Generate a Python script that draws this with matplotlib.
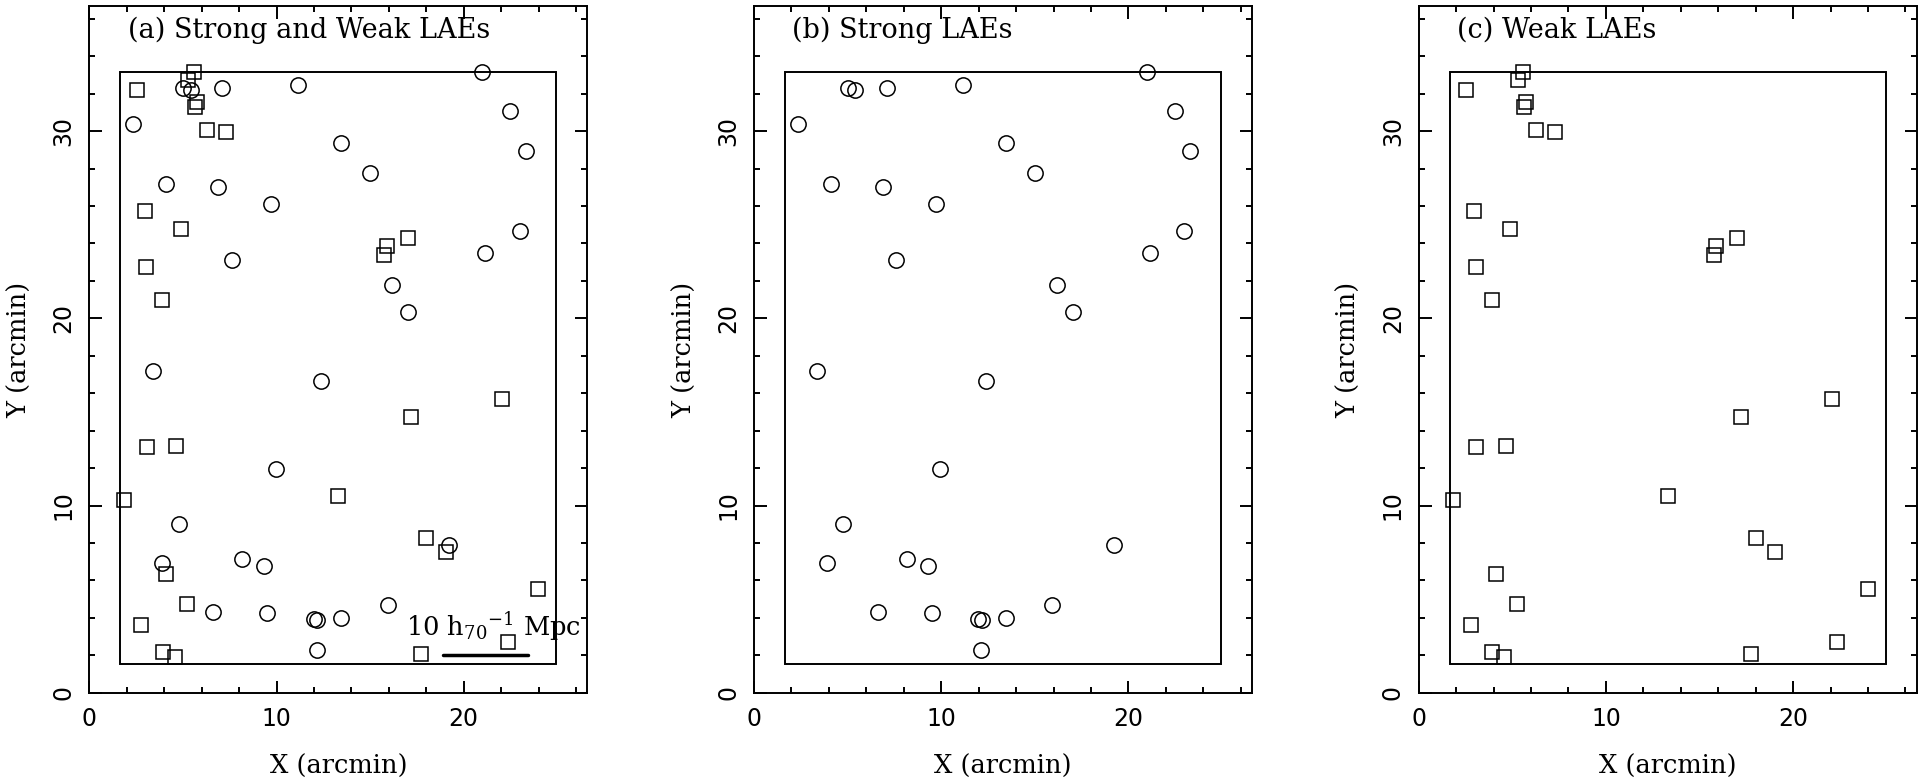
import matplotlib.pyplot as plt
from matplotlib.patches import Rectangle
from matplotlib.ticker import MultipleLocator

plt.rcParams['mathtext.fontset'] = 'dejavuserif'

# strong LAEs (circles), arcmin
strong_x = [2.33, 5.01, 5.41, 7.08, 11.14, 20.97, 22.49, 23.30, 13.45, 14.99,
            4.10, 6.87, 9.70, 22.98, 21.14, 7.61, 16.17, 17.04, 3.38, 12.37,
            9.96, 4.78, 19.22, 3.89, 8.16, 9.32, 6.62, 9.51, 11.99, 12.16,
            13.45, 15.94, 12.14]
strong_y = [30.37, 32.32, 32.21, 32.29, 32.45, 33.15, 31.09, 28.93, 29.36, 27.76,
            27.17, 27.01, 26.13, 24.64, 23.49, 23.09, 21.79, 20.32, 17.17, 16.64,
            11.95, 8.99, 7.87, 6.91, 7.12, 6.77, 4.32, 4.27, 3.92, 3.89,
            3.97, 4.69, 2.29]

# weak LAEs (squares), arcmin
weak_x = [2.53, 5.28, 5.59, 5.73, 5.63, 6.29, 7.29, 2.98, 4.89, 15.90,
          15.76, 17.02, 3.04, 3.89, 22.05, 17.20, 3.08, 4.64, 1.84, 13.31,
          17.99, 19.05, 4.12, 23.98, 5.24, 2.77, 3.91, 4.58, 17.74, 22.34]
weak_y = [32.19, 32.75, 33.15, 31.55, 31.28, 30.05, 29.97, 25.73, 24.77, 23.87,
          23.41, 24.29, 22.72, 20.96, 15.71, 14.72, 13.12, 13.20, 10.29, 10.53,
          8.29, 7.49, 6.32, 5.55, 4.72, 3.63, 2.16, 1.92, 2.05, 2.69]

# survey field outline
field_x0, field_x1 = 1.65, 24.94
field_y0, field_y1 = 1.52, 33.17

titles = ['(a) Strong and Weak LAEs', '(b) Strong LAEs', '(c) Weak LAEs']

fig = plt.figure(figsize=(19.27, 7.82), dpi=100)
lefts = [89.3, 754.0, 1418.7]
axes = [fig.add_axes([l / 1927, 89.3 / 782, 498 / 1927, 686.4 / 782]) for l in lefts]

serif = dict(family='DejaVu Serif', fontsize=18.5)

for i, ax in enumerate(axes):
    if i in (0, 1):
        ax.plot(strong_x, strong_y, 'o', ms=11, mfc='none', mec='black', mew=1.1)
    if i in (0, 2):
        ax.plot(weak_x, weak_y, 's', ms=9.5, mfc='none', mec='black', mew=1.1)

    ax.add_patch(Rectangle((field_x0, field_y0), field_x1 - field_x0,
                           field_y1 - field_y0, fill=False, lw=1.4, ec='black'))
    ax.set_xlim(0, 26.6)
    ax.set_ylim(0, 36.67)

    ax.xaxis.set_major_locator(MultipleLocator(10))
    ax.xaxis.set_minor_locator(MultipleLocator(2))
    ax.yaxis.set_major_locator(MultipleLocator(10))
    ax.yaxis.set_minor_locator(MultipleLocator(2))
    ax.tick_params(which='both', direction='in', top=True, right=True, width=1.4)
    ax.tick_params(which='major', length=9, labelsize=17, pad=10)
    ax.tick_params(which='minor', length=4.5)
    for lab in ax.get_yticklabels():
        lab.set_rotation(90)
        lab.set_va('center')
    for s in ax.spines.values():
        s.set_linewidth(1.4)

    ax.set_xlabel('X (arcmin)', labelpad=17, **serif)
    ax.set_ylabel('Y (arcmin)', labelpad=14, **serif)
    ax.text(2.05, 35.4, titles[i], va='center', family='DejaVu Serif', fontsize=19.5)

# scale bar in panel (a)
axes[0].plot([18.91, 23.45], [2.01, 2.01], color='black', lw=2.5, solid_capstyle='round')
axes[0].text(16.92, 3.03, r'10 h$_{70}{}^{-1}$ Mpc', va='baseline', **serif)

plt.savefig('out.png', dpi=100)
